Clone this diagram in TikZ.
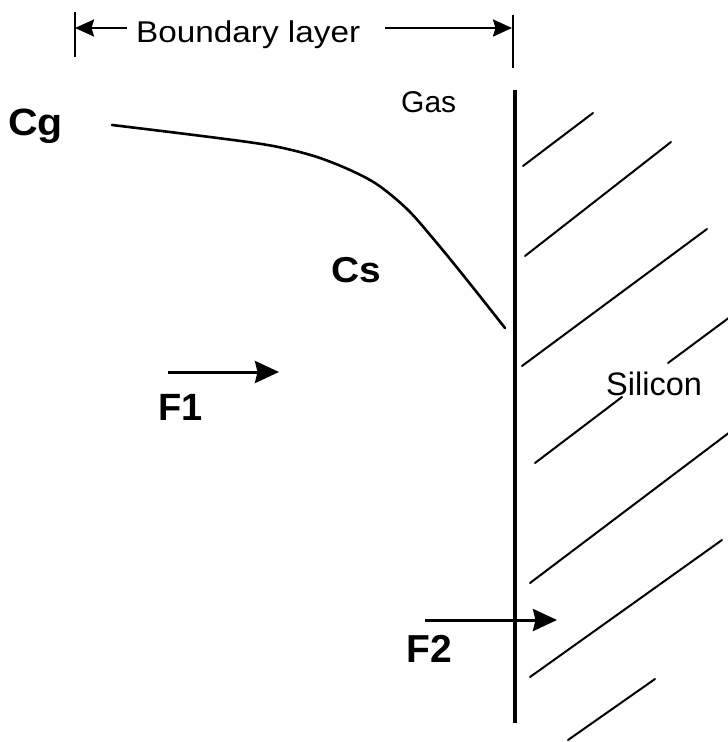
\documentclass[tikz,border=0pt]{standalone}
\usepackage{fontspec}
\setmainfont{Liberation Sans}
\usetikzlibrary{arrows.meta}
\begin{document}
\begin{tikzpicture}[x=1pt,y=-1pt,
  lbl/.style={inner sep=0pt,anchor=base west},
  wall/.style={line width=4.2pt},
  hatch/.style={line width=2pt,line cap=round},
  tick/.style={line width=2.4pt},
  bigarrow/.style={line width=3pt,-{Stealth[length=24pt,width=22pt,inset=2.5pt]}},
  dimarrow/.style={line width=2.4pt,-{Stealth[length=19pt,width=17pt,inset=2.5pt]}},
  curve/.style={line width=2.6pt,line cap=round}]
\useasboundingbox (0,0) rectangle (728,742);
% labels
\node[lbl] (bl) at (136,42) {\scalebox{1.11}[1]{\fontsize{30}{30}\selectfont Boundary layer}};
\node[lbl] (gas) at (401,112) {\fontsize{30}{30}\selectfont Gas};
\node[lbl] (cg) at (8,135) {\scalebox{1.08}[1]{\fontsize{38}{38}\selectfont\bfseries Cg}};
\node[lbl] (cs) at (331,282) {\scalebox{1.08}[1]{\fontsize{36}{36}\selectfont\bfseries Cs}};
\node[lbl] (f1) at (158,420) {\fontsize{38}{38}\selectfont\bfseries F1};
\node[lbl] (f2) at (406,662) {\fontsize{39}{39}\selectfont\bfseries F2};
\node[lbl] (si) at (606,395) {\fontsize{32.5}{32.5}\selectfont Silicon};
% boundary layer dimension
\coordinate (lt1) at (75,12); \coordinate (lt2) at (75,57);
\coordinate (rt1) at (513,15); \coordinate (rt2) at (513,68);
\coordinate (la) at (127,28); \coordinate (lb) at (75,28);
\coordinate (ra) at (385,28); \coordinate (rb) at (512,28);
\draw[tick] (lt1) -- (lt2);
\draw[tick] (rt1) -- (rt2);
\draw[dimarrow] (la) -- (lb);
\draw[dimarrow] (ra) -- (rb);
% wall
\coordinate (wt) at (515,90); \coordinate (wb) at (515,723);
\draw[wall] (wt) -- (wb);
% hatching
\foreach \a/\b in {{(523,166)}/{(593,113)},{(525,256)}/{(671,142)},{(522,366)}/{(707,229)},
  {(668,363)}/{(730,317)},{(535,463)}/{(622,397)},{(530,583)}/{(730,432)},
  {(530,677)}/{(722,540)},{(568,740)}/{(655,679)}}
  \draw[hatch] \a -- \b;
% concentration curve
\draw[curve] plot[smooth,tension=0.55] coordinates {(112,125) (186,134) (250,142.3) (283,148) (317,157) (350,170) (378,185) (408,210) (436,242) (467,280) (505,328)};
% flux arrows
\coordinate (f1a) at (168,372); \coordinate (f1b) at (279,372);
\coordinate (f2a) at (425,620); \coordinate (f2b) at (557,620);
\draw[bigarrow] (f1a) -- (f1b);
\draw[bigarrow] (f2a) -- (f2b);
\end{tikzpicture}
\end{document}
